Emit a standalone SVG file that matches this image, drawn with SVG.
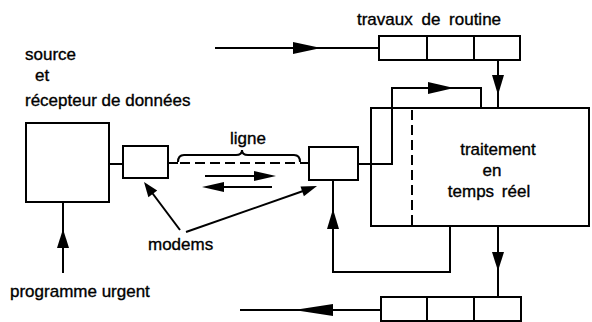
<svg xmlns="http://www.w3.org/2000/svg" width="592" height="322" viewBox="0 0 592 322">
<style>
.box{fill:none;stroke:#000;stroke-width:2}
.ln{fill:none;stroke:#000;stroke-width:2}
.ah{fill:#000;stroke:none}
text{font-family:"Liberation Sans",Arial,sans-serif;font-size:17px;fill:#000;stroke:#000;stroke-width:0.35}
</style>
<rect width="592" height="322" fill="#fff"/>
<g id="source">
<rect class="box" x="26" y="123" width="83" height="79"/>
<text x="25" y="60">source</text>
<text x="35" y="81">et</text>
<text x="25" y="106">récepteur de données</text>
</g>
<g id="modem1"><rect class="box" x="123" y="146" width="45" height="32"/></g>
<g id="modem2"><rect class="box" x="309" y="147" width="49" height="33"/></g>
<g id="traitement">
<rect class="box" x="371" y="108" width="218" height="118"/>
<line class="ln" x1="412" y1="110" x2="412" y2="226" stroke-dasharray="10,5"/>
<text x="498" y="155" text-anchor="middle">traitement</text>
<text x="492" y="176" text-anchor="middle">en</text>
<text x="489" y="197" text-anchor="middle" word-spacing="3">temps réel</text>
</g>
<g id="queue-top">
<rect class="box" x="379" y="36" width="141" height="24"/>
<line class="ln" x1="427" y1="36" x2="427" y2="60"/>
<line class="ln" x1="474" y1="36" x2="474" y2="60"/>
<text x="429" y="25" text-anchor="middle" word-spacing="4">travaux de routine</text>
</g>
<g id="queue-bottom">
<rect class="box" x="381" y="297" width="140" height="24"/>
<line class="ln" x1="427" y1="297" x2="427" y2="321"/>
<line class="ln" x1="474" y1="297" x2="474" y2="321"/>
</g>
<g id="labels">
<text x="248" y="144" text-anchor="middle">ligne</text>
<text x="148" y="250">modems</text>
<text x="10" y="297">programme urgent</text>
</g>
<g id="connectors">
<line class="ln" x1="109" y1="164" x2="123" y2="164"/>
<line class="ln" x1="168" y1="163" x2="178" y2="163"/>
<line class="ln" x1="180" y1="163" x2="309" y2="163" stroke-dasharray="10,5"/>
<path class="ln" d="M178,162 Q178,155 184,155 L236,155 Q242,155 242,150 Q242,155 248,155 L294,155 Q300,155 300,162" stroke-width="1.6"/>
<line class="ln" x1="205" y1="176" x2="260" y2="176"/>
<polygon class="ah" points="254,171 276,176 254,181"/>
<line class="ln" x1="218" y1="187" x2="272" y2="187"/>
<polygon class="ah" points="224,182 202,187 224,192"/>
<line class="ln" x1="180" y1="230" x2="150" y2="190" stroke-width="1.8"/>
<polygon class="ah" points="157.2,190.4 144,182 148.4,197.2"/>
<line class="ln" x1="186" y1="232" x2="306" y2="190" stroke-width="1.8"/>
<polygon class="ah" points="303.9,196.2 317,186 300.5,186.6"/>
<line class="ln" x1="215" y1="48" x2="379" y2="48"/>
<polygon class="ah" points="293,42 321,48 293,54"/>
<line class="ln" x1="498" y1="60" x2="498" y2="108"/>
<polygon class="ah" points="492,75 504,75 498,95"/>
<polyline class="ln" points="358,164 392,164 392,88 481,88 481,108"/>
<polygon class="ah" points="428,82 454,88 428,94"/>
<line class="ln" x1="498" y1="226" x2="498" y2="297"/>
<polygon class="ah" points="492,252 504,252 498,271"/>
<line class="ln" x1="240" y1="310" x2="381" y2="310"/>
<polygon class="ah" points="333,304 294,310 333,316"/>
<polyline class="ln" points="450,226 450,272 333,272 333,180"/>
<polygon class="ah" points="327,229 339,229 333,209"/>
<line class="ln" x1="63" y1="273" x2="63" y2="202"/>
<polygon class="ah" points="57,248 69,248 63,229"/>
</g>
</svg>
